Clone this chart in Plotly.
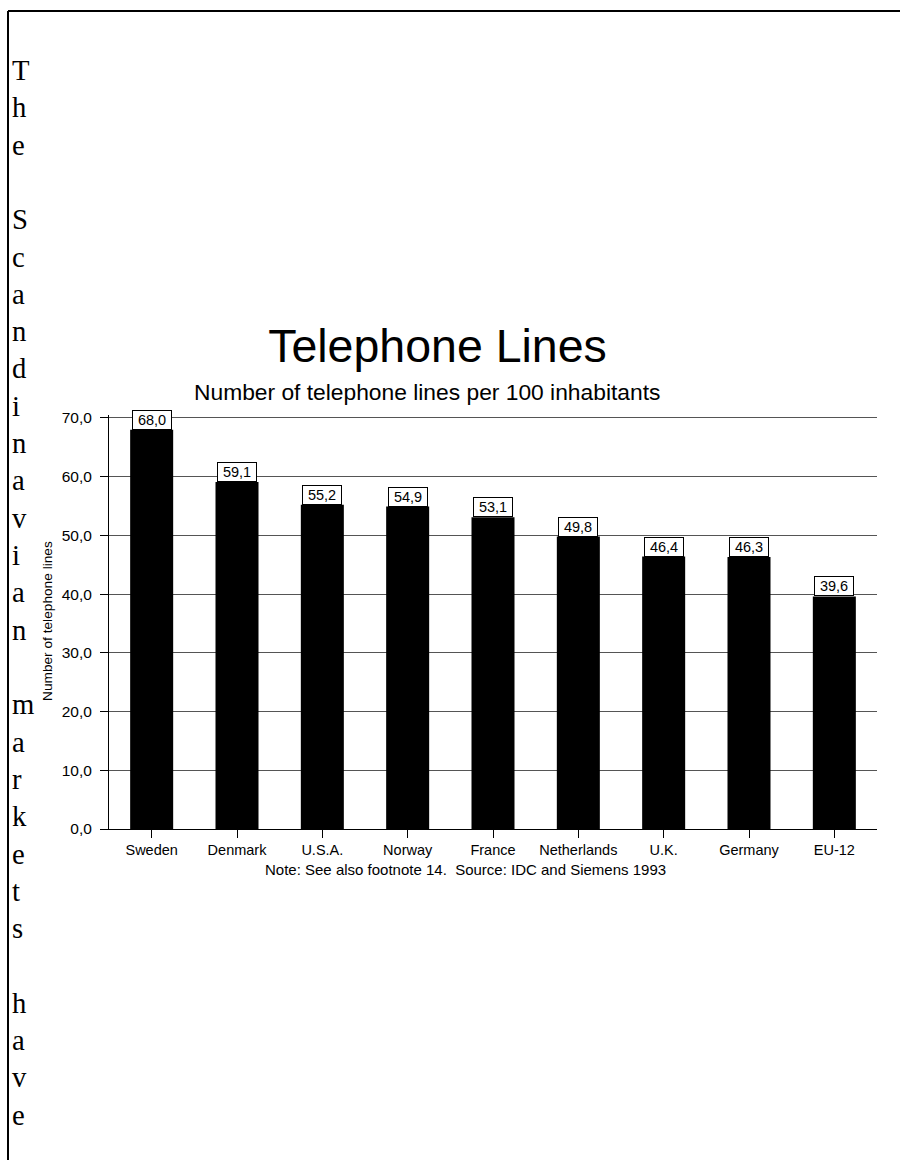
import plotly.graph_objects as go

# ---- data ----
countries = ["Sweden", "Denmark", "U.S.A.", "Norway", "France",
             "Netherlands", "U.K.", "Germany", "EU-12"]
lines_per_100 = [68.0, 59.1, 55.2, 54.9, 53.1, 49.8, 46.4, 46.3, 39.6]
y_ticks = [0, 10, 20, 30, 40, 50, 60, 70]

title_text = "Telephone Lines"
subtitle_text = "Number of telephone lines per 100 inhabitants"
y_title_text = "Number of telephone lines"
footnote_text = "Note: See also footnote 14.\u00a0 Source: IDC and Siemens 1993"
side_text = "The Scandinavian markets have"

# ---- layout geometry (pixels) ----
W, H = 900, 1160
L, R, T, B = 109, 877, 415, 829

def px(x):
    return (x - L) / (R - L)

def py(y):
    return (B - y) / (B - T)

SANS = "Liberation Sans, Arial, Helvetica, sans-serif"
SERIF = "Liberation Serif, Times New Roman, serif"

fig = go.Figure()
fig.add_trace(go.Bar(
    x=countries, y=lines_per_100,
    marker=dict(color="#000000", line=dict(width=0)),
    hoverinfo="x+y",
))

annotations = []
for c, v in zip(countries, lines_per_100):
    annotations.append(dict(
        x=c, y=v, xref="x", yref="y", yanchor="bottom", xanchor="center",
        text=f"{v:.1f}".replace(".", ","), showarrow=False,
        font=dict(family=SANS, size=14.5, color="#000"),
        bgcolor="#ffffff", bordercolor="#000000", borderwidth=1, borderpad=1,
        width=36,
    ))

# subtitle
annotations.append(dict(
    x=px(426.5), y=py(391.5), xref="paper", yref="paper",
    xanchor="center", yanchor="middle", showarrow=False,
    text=subtitle_text, font=dict(family=SANS, size=22.8, color="#000"),
))
# y axis title
annotations.append(dict(
    x=px(47), y=py(621), xref="paper", yref="paper",
    xanchor="center", yanchor="middle", showarrow=False, textangle=-90,
    text=y_title_text, font=dict(family=SANS, size=13.7, color="#000"),
))
# footnote
annotations.append(dict(
    x=px(465), y=py(869), xref="paper", yref="paper",
    xanchor="center", yanchor="middle", showarrow=False,
    text=footnote_text, font=dict(family=SANS, size=15, color="#000"),
))
# vertical side text, one letter per line
side_lines = [ch if ch != " " else "\u00a0" for ch in side_text]
annotations.append(dict(
    x=px(10), y=py(52), xref="paper", yref="paper",
    xanchor="left", yanchor="top", showarrow=False, align="left",
    text="<br>".join(side_lines),
    font=dict(family=SERIF, size=28.7, color="#000"),
))

shapes = [
    dict(type="line", xref="paper", yref="paper",
         x0=px(8), x1=px(W + 5), y0=py(11), y1=py(11),
         line=dict(color="#000", width=2)),
    dict(type="line", xref="paper", yref="paper",
         x0=px(8), x1=px(8), y0=py(11), y1=py(H + 5),
         line=dict(color="#000", width=2)),
]

fig.update_layout(
    width=W, height=H,
    margin=dict(l=L, r=W - R, t=T, b=H - B, pad=0),
    paper_bgcolor="#ffffff", plot_bgcolor="#ffffff",
    separators=",.",
    showlegend=False,
    bargap=0.496,
    title=dict(text=title_text, x=px(437.5), xref="paper", xanchor="center",
               y=1 - 345.5 / H, yref="container", yanchor="middle",
               font=dict(family=SANS, size=46.5, color="#000")),
    font=dict(family=SANS, color="#000"),
    xaxis=dict(
        showline=True, linecolor="#000", linewidth=1,
        ticks="outside", ticklen=8, tickcolor="#000", tickwidth=1,
        tickfont=dict(family=SANS, size=14.5, color="#000"),
        showgrid=False, zeroline=False, fixedrange=True,
    ),
    yaxis=dict(
        range=[0, 70.5], tickvals=y_ticks, tickformat=".1f",
        showline=True, linecolor="#000", linewidth=1,
        ticks="outside", ticklen=8, tickcolor="#000", tickwidth=1,
        ticklabelstandoff=5,
        tickfont=dict(family=SANS, size=15.5, color="#000"),
        showgrid=True, gridcolor="#555555", gridwidth=1,
        zeroline=False, fixedrange=True,
    ),
    annotations=annotations,
    shapes=shapes,
)

fig.write_html("out.html")
